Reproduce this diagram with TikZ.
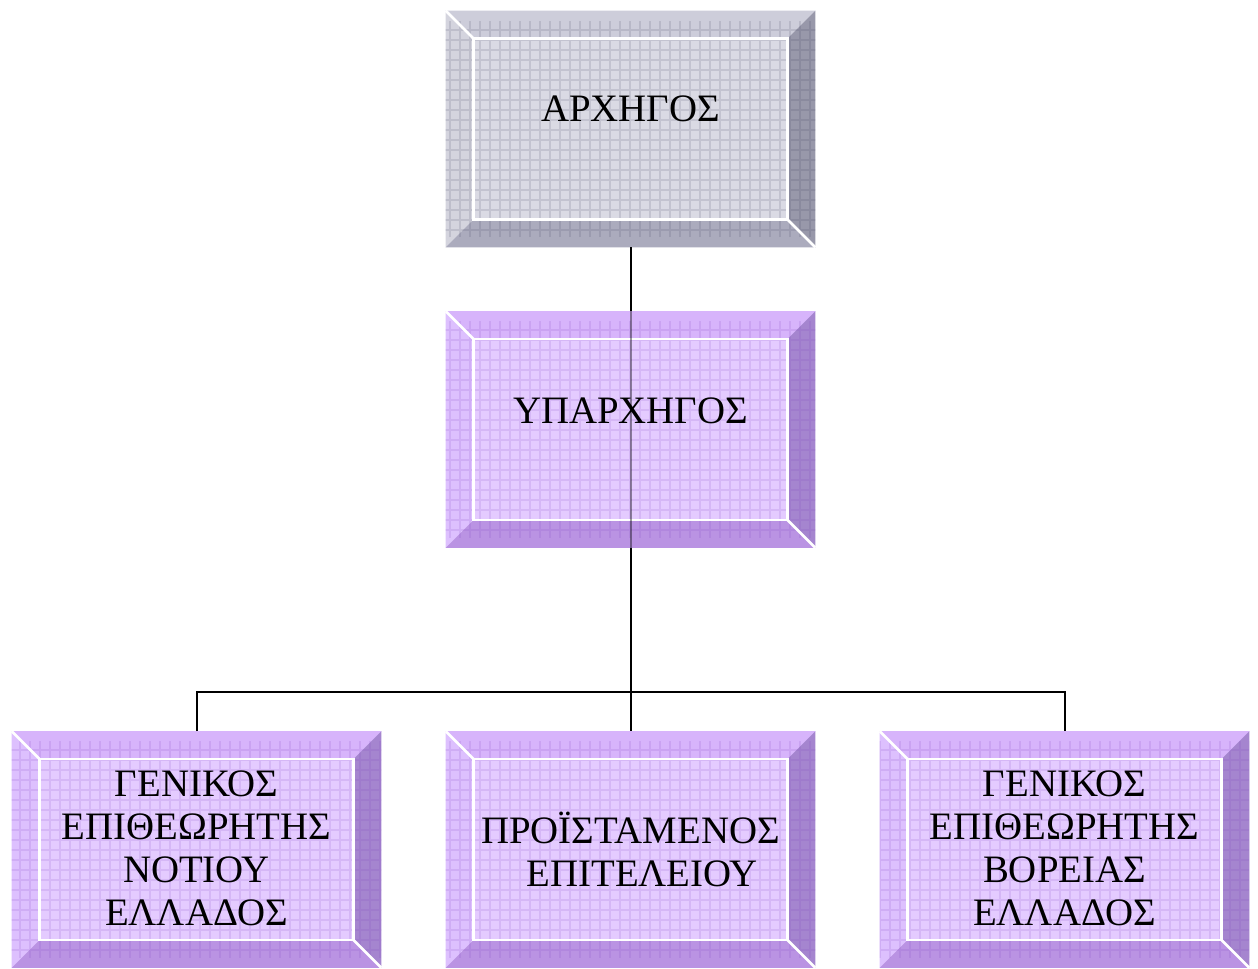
\documentclass[tikz,border=0pt]{standalone}
\usepackage{fontspec}
\setmainfont{Liberation Serif}
\usetikzlibrary{calc}
\definecolor{gface}{HTML}{DADAE4}
\definecolor{gtop}{HTML}{CDCDDA}
\definecolor{gleft}{HTML}{D4D4DE}
\definecolor{gbot}{HTML}{ABABBD}
\definecolor{gright}{HTML}{9898AA}
\definecolor{ggrid}{HTML}{3A3A5A}
\definecolor{pface}{HTML}{E4CBFF}
\definecolor{ptop}{HTML}{D7B4FB}
\definecolor{pleft}{HTML}{DDC0FE}
\definecolor{pbot}{HTML}{BA93E3}
\definecolor{pright}{HTML}{A585CF}
\definecolor{pgrid}{HTML}{8040C0}
\tikzset{
  orgbox/.style={minimum width=221.4pt, minimum height=141.6pt, inner sep=0pt, align=center},
  boxtext/.style={align=center, font=\fontsize{23.3pt}{25.8pt}\selectfont, inner sep=0pt},
  conn/.style={draw=black, line width=1.2pt},
}
\newcommand{\bevelbox}[2]{%
  \fill[#2face] (#1.north west) rectangle (#1.south east);
  \fill[#2top] (#1.north west) -- (#1.north east) -- ($(#1.north east)+(-28,28)$) -- ($(#1.north west)+(28,28)$) -- cycle;
  \fill[#2left] (#1.north west) -- ($(#1.north west)+(28,28)$) -- ($(#1.south west)+(28,-28)$) -- (#1.south west) -- cycle;
  \fill[#2bot] (#1.south west) -- ($(#1.south west)+(28,-28)$) -- ($(#1.south east)+(-28,-28)$) -- (#1.south east) -- cycle;
  \fill[#2right] (#1.north east) -- ($(#1.north east)+(-28,28)$) -- ($(#1.south east)+(-28,-28)$) -- (#1.south east) -- cycle;
  \begin{scope}
    \clip (#1.north west) rectangle (#1.south east);
    \draw[#2grid, draw opacity=0.14, line width=0.7pt, xstep=6pt, ystep=6pt] ($(#1.north west)+(-10,10)$) grid ($(#1.south east)+(10,-10)$);
  \end{scope}
  \draw[white, line width=1.5pt] ($(#1.north west)+(28,28)$) rectangle ($(#1.south east)+(-28,-28)$);
  \draw[white, line width=1.5pt] (#1.north west) -- ($(#1.north west)+(28,28)$);
  \draw[white, line width=1.5pt] (#1.south east) -- ($(#1.south east)+(-28,-28)$);
}
\begin{document}
\begin{tikzpicture}[x=0.6pt, y=-0.6pt]
\useasboundingbox (0,0) rectangle (1258,969);
\node[orgbox] (arch) at (630.5,129) {};
\node[orgbox] (yparch) at (630.5,429.5) {};
\node[orgbox] (gen1) at (196.5,849.5) {};
\node[orgbox] (pro) at (630.5,849.5) {};
\node[orgbox] (gen2) at (1064.5,849.5) {};
\bevelbox{arch}{g}
\bevelbox{yparch}{p}
\bevelbox{gen1}{p}
\bevelbox{pro}{p}
\bevelbox{gen2}{p}
\draw[black, opacity=0.4, line width=1.2pt] (yparch.north) -- (yparch.south);
\node[boxtext, anchor=base] (arch-t) at (630.5,122) {ΑΡΧΗΓΟΣ};
\node[boxtext, anchor=base] (yparch-t) at (630.5,424) {ΥΠΑΡΧΗΓΟΣ};
\node[boxtext] (gen1-t) at (196.5,848) {ΓΕΝΙΚΟΣ\\ΕΠΙΘΕΩΡΗΤΗΣ\\ΝΟΤΙΟΥ\\ΕΛΛΑΔΟΣ};
\node[boxtext] (pro-t) at (630.5,849) {ΠΡΟΪΣΤΑΜΕΝΟΣ\\\hspace*{0.6em}ΕΠΙΤΕΛΕΙΟΥ};
\node[boxtext] (gen2-t) at (1064.5,848) {ΓΕΝΙΚΟΣ\\ΕΠΙΘΕΩΡΗΤΗΣ\\ΒΟΡΕΙΑΣ\\ΕΛΛΑΔΟΣ};
\coordinate (j) at (630.5,692);
\draw[conn] (arch.south) -- (yparch.north);
\draw[conn] (yparch.south) -- (j);
\draw[conn] (gen1.north) |- (j) -| (gen2.north);
\draw[conn] (j) -- (pro.north);
\end{tikzpicture}
\end{document}
